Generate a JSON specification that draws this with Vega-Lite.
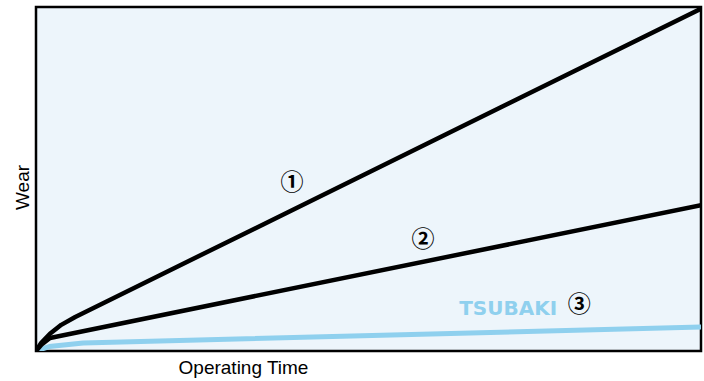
{
  "$schema": "https://vega.github.io/schema/vega-lite/v6.json",
  "autosize": {"type": "none"},
  "width": 665,
  "height": 344,
  "padding": {"left": 36, "top": 7, "right": 3, "bottom": 30},
  "background": "#ffffff",
  "config": {
    "view": {"fill": "#edf5fb", "stroke": "#000000", "strokeWidth": 2.5},
    "axis": {"domain": false, "ticks": false, "labels": false, "grid": false,
             "titleFont": "Liberation Sans", "titleFontSize": 19, "titleFontWeight": "normal", "titleColor": "#000000"}
  },
  "datasets": {
    "black": [
      {"series": "1", "t": 0, "w": 0},
      {"series": "1", "t": 0.8, "w": 2.4},
      {"series": "1", "t": 2.1, "w": 5.0},
      {"series": "1", "t": 3.8, "w": 7.6},
      {"series": "1", "t": 5.9, "w": 9.9},
      {"series": "1", "t": 100, "w": 99.5},
      {"series": "2", "t": 0, "w": 0},
      {"series": "2", "t": 0.9, "w": 2.0},
      {"series": "2", "t": 2.1, "w": 3.8},
      {"series": "2", "t": 100, "w": 42.4}
    ],
    "blue": [
      {"series": "3", "t": 0, "w": 0},
      {"series": "3", "t": 2.0, "w": 1.3},
      {"series": "3", "t": 7.1, "w": 2.3},
      {"series": "3", "t": 100, "w": 7.0}
    ],
    "circled": [
      {"label": "①", "t": 38.5, "w": 48.8},
      {"label": "②", "t": 58.2, "w": 32.3},
      {"label": "③", "t": 81.7, "w": 13.4}
    ],
    "brand": [
      {"label": "TSUBAKI", "t": 71.0, "w": 12.2}
    ]
  },
  "encoding": {
    "x": {"field": "t", "type": "quantitative", "scale": {"domain": [0, 100], "nice": false, "zero": false},
          "axis": {"title": "Operating Time", "titleX": 207, "titleY": 22, "titleAlign": "center", "titleBaseline": "alphabetic", "titleAnchor": null}},
    "y": {"field": "w", "type": "quantitative", "scale": {"domain": [0, 100], "nice": false, "zero": false},
          "axis": {"title": "Wear", "titleX": -8, "titleY": 180, "titleAlign": "center", "titleBaseline": "alphabetic", "titleAngle": -90, "titleAnchor": null}}
  },
  "layer": [
    {
      "data": {"name": "blue"},
      "mark": {"type": "line", "color": "#8fd0ee", "strokeWidth": 5, "clip": true, "interpolate": "linear", "strokeCap": "butt", "strokeJoin": "round"},
      "encoding": {"detail": {"field": "series", "type": "nominal"}}
    },
    {
      "data": {"name": "black"},
      "mark": {"type": "line", "color": "#000000", "strokeWidth": 4.5, "clip": true, "interpolate": "linear", "strokeCap": "butt", "strokeJoin": "round"},
      "encoding": {"detail": {"field": "series", "type": "nominal"}}
    },
    {
      "data": {"name": "circled"},
      "mark": {"type": "text", "font": "Noto Sans CJK JP", "fontWeight": "bold", "fontSize": 23, "color": "#000000", "align": "center", "baseline": "middle"},
      "encoding": {"text": {"field": "label", "type": "nominal"}}
    },
    {
      "data": {"name": "brand"},
      "mark": {"type": "text", "font": "DejaVu Sans", "fontWeight": "bold", "fontSize": 20, "color": "#8fd0ee", "align": "center", "baseline": "middle"},
      "encoding": {"text": {"field": "label", "type": "nominal"}}
    }
  ]
}
